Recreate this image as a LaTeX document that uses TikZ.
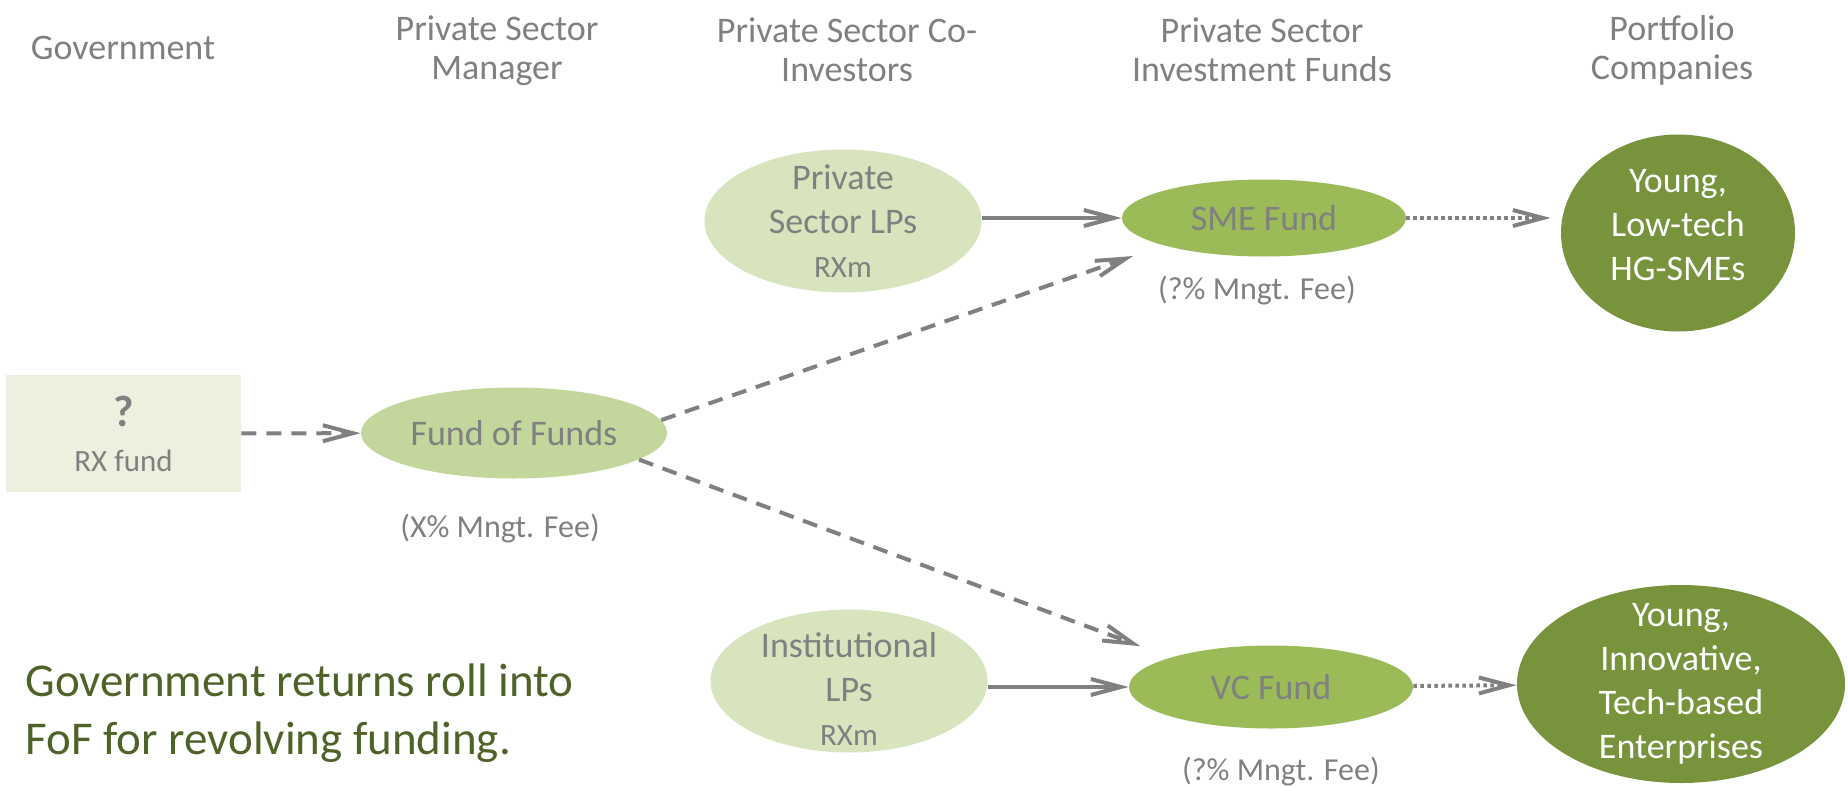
\documentclass[tikz,border=0pt]{standalone}
\usepackage{fontspec}
\setmainfont{Carlito}
\usetikzlibrary{shapes.geometric,arrows.meta,positioning}

\definecolor{labelgray}{HTML}{808080}
\definecolor{govfill}{HTML}{EBF1DE}
\definecolor{lpfill}{HTML}{D7E4BD}
\definecolor{foffill}{HTML}{C3D69B}
\definecolor{fundfill}{HTML}{9BBB59}
\definecolor{firmfill}{HTML}{77933C}
\definecolor{notegreen}{HTML}{4F6228}

\newcommand{\amt}[1]{{\fontsize{15.5}{18}\selectfont #1}}

\tikzset{
  colhead/.style={text=labelgray, align=center, inner sep=0pt, font=\fontsize{18}{19.5}\selectfont},
  govbox/.style={rectangle, fill=govfill, text=labelgray, align=center, inner sep=0pt,
    minimum width=117.5pt, minimum height=58.5pt, font=\fontsize{18}{22.5}\selectfont},
  ovaltext/.style={align=center, text=labelgray, font=\fontsize{18}{22}\selectfont},
  oval/.style={ellipse, inner sep=-12pt, ovaltext},
  lp/.style={oval, fill=lpfill, minimum width=138.5pt, minimum height=71.5pt},
  fofnode/.style={oval, fill=foffill, minimum width=153pt, minimum height=45.5pt},
  fund/.style={oval, fill=fundfill, minimum width=142pt},
  firm/.style={oval, fill=firmfill, text=white},
  firmtext/.style={ovaltext, text=white},
  fee/.style={text=labelgray, inner sep=0pt, font=\fontsize{16}{19}\selectfont},
  note/.style={text=notegreen, align=left, inner sep=0pt, font=\fontsize{23.5}{29}\selectfont},
  flow/.style={draw=labelgray, line width=2pt, -{Straight Barb[length=15pt,width=8pt]}},
  capital/.style={flow, dash pattern=on 7.5pt off 5pt},
  deal/.style={flow, dash pattern=on 1.75pt off 1.75pt}
}

\begin{document}
\begin{tikzpicture}[x=0.5pt, y=-0.5pt]
  \useasboundingbox (0,0) rectangle (1848,787);

  % Column headings

  \node[colhead] (hgov) at (123,48) {Government};
  \node[colhead] (hmgr) at (497,51) {Private Sector\\Manager};
  \node[colhead] (hco) at (847,50) {Private Sector Co-\\Investors};
  \node[colhead] (hfund) at (1262,50) {Private Sector\\Investment Funds};
  \node[colhead] (hport) at (1672,50) {Portfolio\\Companies};

  % Nodes

  \node[govbox] (gov) at (123.5,433.5) {\textbf{\fontsize{22}{22.5}\selectfont ?}\\\amt{RX fund}};
  \node[fofnode] (fof) at (514,433) {Fund of Funds};
  \node[lp] (splp) at (843,221) {Private\\Sector LPs\\\amt{RXm}};
  \node[lp, label={[ovaltext, yshift=-4pt]center:Institutional\\LPs\\\amt{RXm}}] (inslp) at (849,681) {};
  \node[fund, minimum height=38.5pt] (sme) at (1264,218) {SME Fund};
  \node[fund, minimum height=41.5pt] (vc) at (1271,687) {VC Fund};
  \node[firm, minimum width=117pt, minimum height=98.5pt,
    label={[firmtext, yshift=4pt]center:Young,\\Low-tech\\HG-SMEs}] (hgsme) at (1678,233) {};
  \node[firm, minimum width=164pt, minimum height=99pt] (tech) at (1681,684) {Young,\\Innovative,\\Tech-based\\Enterprises};

  % Fee labels

  \node[fee, anchor=base] (feefof) at (500,537) {(X\% Mngt. Fee)};
  \node[fee, anchor=base] (feesme) at (1257,299) {(?\% Mngt. Fee)};
  \node[fee, anchor=base] (feevc) at (1281,780) {(?\% Mngt. Fee)};

  \node[note, anchor=west] (recycle) at (25,713) {Government returns roll into\\FoF for revolving funding.};

  % Edges

  \draw[capital] (gov) -- (fof);
  \draw[capital, shorten >=16pt] (fof.5) -- (sme.south west);
  \draw[capital, shorten >=16pt] (fof.-12) -- (vc.north west);
  \draw[flow] (splp.east |- sme.west) -- (sme.west);
  \draw[flow] (inslp.east |- vc.west) -- (vc.west);
  \draw[deal, shorten >=5pt] (sme.east) -- (sme.east -| hgsme.west);
  \draw[deal] (vc) -- (tech);

\end{tikzpicture}
\end{document}
